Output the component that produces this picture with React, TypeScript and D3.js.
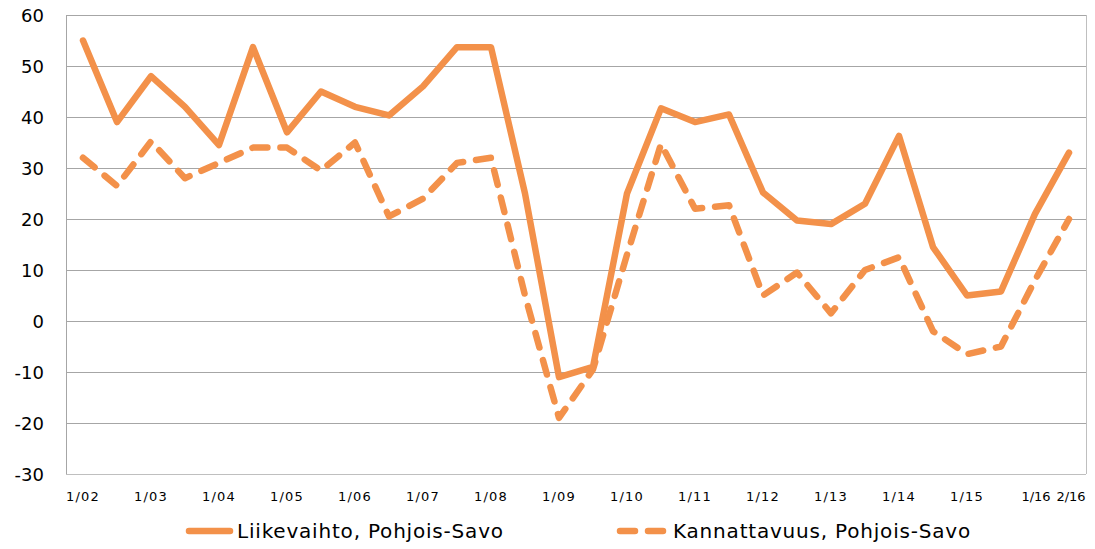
import React from "react";
import * as d3 from "d3";

const categories = ["1/02","h2/02","1/03","h2/03","1/04","h2/04","1/05","h2/05","1/06","h2/06","1/07","h2/07","1/08","h2/08","1/09","h2/09","1/10","h2/10","1/11","h2/11","1/12","h2/12","1/13","h2/13","1/14","h2/14","1/15","h2/15","1/16","2/16"];
const tickLabels = ["1/02","1/03","1/04","1/05","1/06","1/07","1/08","1/09","1/10","1/11","1/12","1/13","1/14","1/15","1/16","2/16"];
const liikevaihto = [55,39,48,42,34.5,53.7,37,45,42,40.3,46,53.7,53.7,25,-11,-9,25,41.7,39,40.5,25.2,19.7,19,23,36.3,14.5,5,5.8,21,33];
const kannattavuus = [32,26.5,35.2,28,31,34,34,29.5,35,20.5,24,31,32,5,-19,-9.5,13,34.7,22,22.7,5,9.5,1.5,10,12.5,-2,-6.5,-5,8,20];
const yTicks = [60,50,40,30,20,10,0,-10,-20,-30];
const seriesNames = ["Liikevaihto, Pohjois-Savo","Kannattavuus, Pohjois-Savo"];

const W = 1095, H = 549;
const left = 66, right = 1086, top = 15, bottom = 474;
const color = "#F3914A";
const font = "'DejaVu Sans', Tahoma, sans-serif";

export default function App() {
  const x = d3.scaleBand<string>().domain(categories).range([left, right]);
  const cx = (c: string) => (x(c) as number) + x.bandwidth() / 2;
  const y = d3.scaleLinear().domain([-30, 60]).range([bottom, top]);
  const line = d3.line<number>().x((_, i) => cx(categories[i])).y(d => y(d));

  return (
    <svg width={W} height={H} style={{ position: "absolute", left: 0, top: 0, background: "#fff" }}>
      {yTicks.map(t => (
        <line key={t} x1={left} x2={right} y1={y(t)} y2={y(t)} stroke="#A6A6A6" strokeWidth={1} shapeRendering="crispEdges" />
      ))}
      <line x1={left} x2={left} y1={top} y2={bottom} stroke="#A6A6A6" strokeWidth={1} shapeRendering="crispEdges" />
      <line x1={right} x2={right} y1={top} y2={bottom} stroke="#BFBFBF" strokeWidth={1} shapeRendering="crispEdges" />
      <line x1={left} x2={right} y1={bottom} y2={bottom} stroke="#BFBFBF" strokeWidth={1} shapeRendering="crispEdges" />
      {yTicks.map(t => (
        <text key={t} x={44} y={y(t)} textAnchor="end" dominantBaseline="central" fontFamily={font} fontSize={18} fill="#000">{t}</text>
      ))}
      {tickLabels.map(l => {
        const last = l === "1/16" || l === "2/16";
        return (
          <text key={l} x={cx(l) + (l === "1/16" ? 1 : l === "2/16" ? 2 : 0)} y={501} textAnchor="middle" fontFamily={font} fontSize={13} letterSpacing={last ? 0 : 1.2} fill="#000">{l}</text>
        );
      })}
      <path d={line(liikevaihto) || ""} fill="none" stroke={color} strokeWidth={6.5} strokeLinejoin="round" strokeLinecap="round" />
      <path d={line(kannattavuus) || ""} fill="none" stroke={color} strokeWidth={6.5} strokeLinejoin="round" strokeLinecap="round" strokeDasharray="15 13" />
      <line x1={189} x2={230} y1={531} y2={531} stroke={color} strokeWidth={6.5} strokeLinecap="round" />
      <text x={237} y={531} dominantBaseline="central" fontFamily={font} fontSize={20} letterSpacing={0.8} fill="#000">{seriesNames[0]}</text>
      <line x1={620} x2={667} y1={531} y2={531} stroke={color} strokeWidth={6.5} strokeLinecap="round" strokeDasharray="15 13" />
      <text x={673} y={531} dominantBaseline="central" fontFamily={font} fontSize={20} letterSpacing={0.8} fill="#000">{seriesNames[1]}</text>
    </svg>
  );
}
